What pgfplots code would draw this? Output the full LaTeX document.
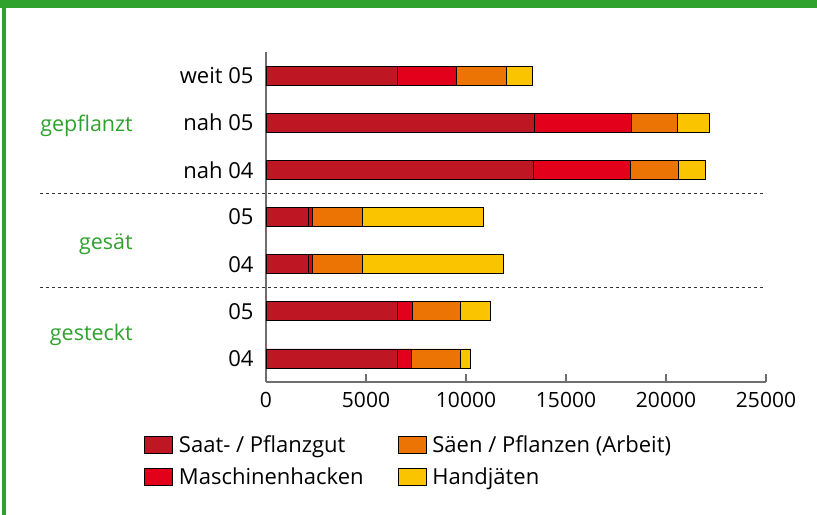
\documentclass[border=0pt]{standalone}
\usepackage{fontspec}
\setmainfont{Open Sans}
\usepackage{pgfplots}
\pgfplotsset{compat=1.18}
\definecolor{saat}{HTML}{BE1622}
\definecolor{hack}{HTML}{E2001A}
\definecolor{saen}{HTML}{EC7405}
\definecolor{jaet}{HTML}{FBC400}
\definecolor{grn}{HTML}{2FA22E}
\definecolor{axgray}{HTML}{6E6E6E}
\begin{document}
\begin{tikzpicture}
\path[use as bounding box] (-266bp,-133bp) rectangle (551bp,382bp);
\fill[grn] (-266bp,374bp) rectangle (551bp,382bp);
\fill[grn] (-264bp,-133bp) rectangle (-260bp,374bp);
\begin{axis}[
  at={(0,0)}, anchor=south west,
  scale only axis, width=500bp, height=330bp,
  xbar stacked, bar width=19bp,
  xmin=0, xmax=25000, ymin=0.5, ymax=7.5,
  clip=false,
  axis x line*=bottom, axis y line*=left,
  axis line style={draw=axgray, line width=1.2bp},
  xtick={0,5000,10000,15000,20000,25000},
  scaled x ticks=false,
  /pgf/number format/assume math mode=true,
  xticklabel style={/pgf/number format/1000 sep={}, yshift=-7bp, font=\fontsize{21bp}{24bp}\selectfont},
  ytick={1,2,3,4,5,6,7},
  yticklabels={04,05,04,05,nah 04,nah 05,weit 05},
  yticklabel style={xshift=-9bp, font=\fontsize{22bp}{25bp}\selectfont},
  major tick length=8bp, tick align=inside,
  xtick style={draw=axgray, line width=1.2bp},
  ytick style={draw=none},
  tick label style={text=black},
  legend style={draw=none, at={(-0.244,-0.155)}, anchor=north west,
    font=\fontsize{22bp}{25bp}\selectfont,
    /tikz/every odd column/.style={column sep=4bp},
    /tikz/every even column/.style={column sep=32bp},
    row sep=10bp, inner sep=0pt},
  legend columns=2, transpose legend,
  legend cell align=left,
  legend image code/.code={\draw[#1,draw=black,line width=0.8bp] (0bp,-8.5bp) rectangle (28bp,8.5bp);},
  every axis plot/.append style={draw=black, line width=0.8bp},
]
\addplot[fill=saat] coordinates {(6550,7) (13440,6) (13380,5) (2115,4) (2115,3) (6575,2) (6575,1)};
\addplot[fill=hack] coordinates {(2960,7) (4850,6) (4850,5) (220,4) (220,3) (735,2) (720,1)};
\addplot[fill=saen] coordinates {(2500,7) (2270,6) (2370,5) (2480,4) (2480,3) (2435,2) (2430,1)};
\addplot[fill=jaet] coordinates {(1310,7) (1630,6) (1380,5) (6050,4) (7045,3) (1480,2) (485,1)};
\legend{Saat- / Pflanzgut, Maschinenhacken, Säen / Pflanzen (Arbeit), Handjäten}
\draw[dash pattern=on 3bp off 3bp, line width=1bp, black!80] (axis cs:-11300,4.5) -- (axis cs:25000,4.5);
\draw[dash pattern=on 3bp off 3bp, line width=1bp, black!80] (axis cs:-11300,2.5) -- (axis cs:25000,2.5);
\node[anchor=base east, inner sep=0pt, text=grn, font=\fontsize{21.5bp}{24bp}\selectfont] at (axis cs:-6650,5.807) {gepflanzt};
\node[anchor=base east, inner sep=0pt, text=grn, font=\fontsize{21.5bp}{24bp}\selectfont] at (axis cs:-6650,3.307) {gesät};
\node[anchor=base east, inner sep=0pt, text=grn, font=\fontsize{21.5bp}{24bp}\selectfont] at (axis cs:-6650,1.38) {gesteckt};
\end{axis}
\end{tikzpicture}
\end{document}
